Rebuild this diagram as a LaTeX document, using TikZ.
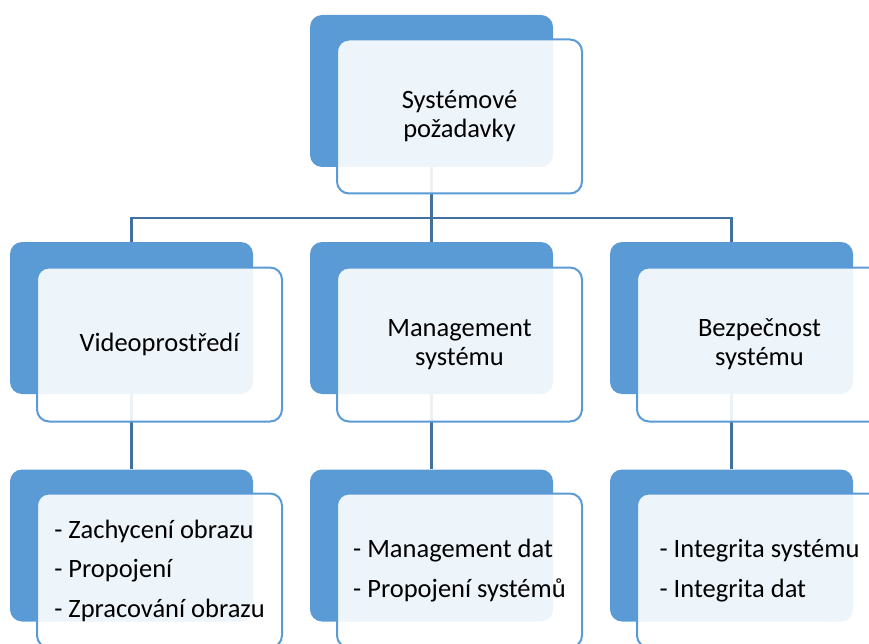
\documentclass[tikz,border=0pt]{standalone}
\usepackage{fontspec}
\setmainfont{Carlito}
\usetikzlibrary{backgrounds}
\definecolor{accent}{HTML}{5B9BD5}
\definecolor{conn}{HTML}{41719C}
\begin{document}
\begin{tikzpicture}[x=1pt,y=-1pt,
  back/.style={fill=accent, draw=none, rounded corners=12pt, minimum width=243pt, minimum height=152pt, inner sep=0pt},
  front/.style={fill=white, fill opacity=0.9, text opacity=1, draw=accent, line width=2pt, rounded corners=12pt, minimum width=245pt, minimum height=154pt, inner sep=0pt, font=\fontsize{26.5}{29}\selectfont, align=center},
  listbox/.style={front, align=left, font=\fontsize{26.5}{39.5}\selectfont},
  link/.style={draw=conn, line width=2.5pt}]
\useasboundingbox (0,0) rectangle (869,644);
% top
\node[back] (tb) at (431.5,91) {};
\node[front] (tf) at (459.5,116.5) {Systémové\\požadavky};
% middle row
\node[back] (mb1) at (131.5,318) {};
\node[front] (mf1) at (159.5,344.5) {Videoprostředí};
\node[back] (mb2) at (431.5,318) {};
\node[front] (mf2) at (459.5,344.5) {Management\\systému};
\node[back] (mb3) at (731.5,318) {};
\node[front] (mf3) at (759.5,344.5) {Bezpečnost\\systému};
% bottom row
\node[back] (bb1) at (131.5,545.5) {};
\node[listbox] (bf1) at (159.5,570.5) {- Zachycení obrazu\\- Propojení\\- Zpracování obrazu};
\node[back] (bb2) at (431.5,545.5) {};
\node[listbox] (bf2) at (459.5,570.5) {- Management dat\\- Propojení systémů};
\node[back] (bb3) at (731.5,545.5) {};
\node[listbox] (bf3) at (759.5,570.5) {- Integrita systému\\- Integrita dat};
% connectors
\coordinate (bus) at (0,218);
\begin{scope}[on background layer]
\draw[link] (tb.south) -- (tb.south |- bus);
\draw[link] (mb1.north) |- (mb3.north |- bus) -- (mb3.north);
\draw[link] (mb2.north) -- (mb2.north |- bus);
\draw[link] (mb1.south) -- (bb1.north);
\draw[link] (mb2.south) -- (bb2.north);
\draw[link] (mb3.south) -- (bb3.north);
\end{scope}
\end{tikzpicture}
\end{document}
